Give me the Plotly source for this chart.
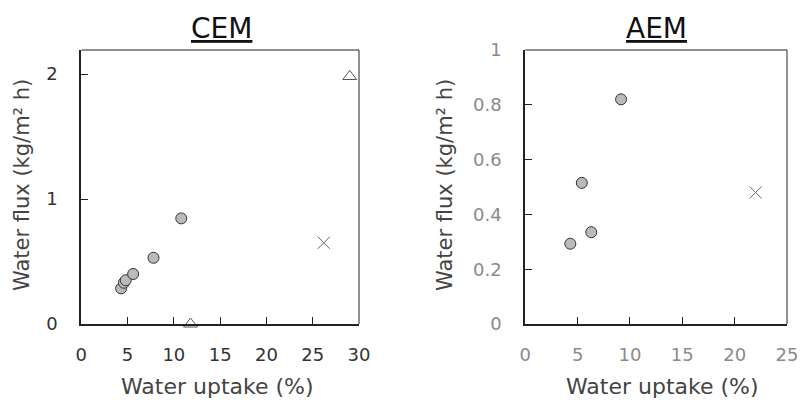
import plotly.graph_objects as go

# CEM data
cem_circle_x = [4.3, 4.6, 4.8, 5.6, 7.8, 10.8]
cem_circle_y = [0.285, 0.33, 0.35, 0.40, 0.53, 0.845]
cem_tri_x = [29.0, 11.8]
cem_tri_y = [1.98, 0.0]
cem_x_x = [26.2]
cem_x_y = [0.65]

# AEM data
aem_circle_x = [9.15, 5.4, 6.3, 4.3]
aem_circle_y = [0.82, 0.515, 0.335, 0.293]
aem_x_x = [22.0]
aem_x_y = [0.48]

cem_xticks = [0, 5, 10, 15, 20, 25, 30]
cem_yticks = [0, 1, 2]
aem_xticks = [0, 5, 10, 15, 20, 25]
aem_yticks = [0, 0.2, 0.4, 0.6, 0.8, 1]

FONT = "DejaVu Sans"
circle_style = dict(symbol="circle", size=11, color="#bababa", line=dict(color="#333333", width=1))
tri_style = dict(symbol="triangle-up-open", size=12, color="#555555", line=dict(width=1))
x_style = dict(symbol="x-thin-open", size=12, color="#666666", line=dict(width=1, color="#666666"))

fig = go.Figure()
fig.add_trace(go.Scatter(x=cem_circle_x, y=cem_circle_y, mode="markers", marker=circle_style, xaxis="x", yaxis="y", cliponaxis=False))
fig.add_trace(go.Scatter(x=cem_tri_x, y=cem_tri_y, mode="markers", marker=tri_style, xaxis="x", yaxis="y", cliponaxis=False))
fig.add_trace(go.Scatter(x=cem_x_x, y=cem_x_y, mode="markers", marker=x_style, xaxis="x", yaxis="y", cliponaxis=False))
fig.add_trace(go.Scatter(x=aem_circle_x, y=aem_circle_y, mode="markers", marker=circle_style, xaxis="x2", yaxis="y2", cliponaxis=False))
fig.add_trace(go.Scatter(x=aem_x_x, y=aem_x_y, mode="markers", marker=x_style, xaxis="x2", yaxis="y2", cliponaxis=False))

W, H = 803, 400
ydom = [1 - 324 / H, 1 - 50 / H]
axis_common = dict(showgrid=False, zeroline=False, showline=True, linecolor="#222222", linewidth=2,
                   ticks="inside", ticklen=7, tickcolor="#222222", tickwidth=1, automargin=False)

fig.update_layout(
    width=W, height=H, showlegend=False,
    margin=dict(l=0, r=0, t=0, b=0, pad=0),
    paper_bgcolor="white", plot_bgcolor="white",
    font=dict(family=FONT, size=18, color="#333333"),
    xaxis=dict(domain=[81.3 / W, 359 / W], range=[0, 30], tickvals=cem_xticks, anchor="y",
               tickfont=dict(color="#333333"), ticklabelstandoff=13, **axis_common),
    yaxis=dict(domain=ydom, range=[0, 2.192], tickvals=cem_yticks, anchor="x",
               tickfont=dict(color="#333333"), ticklabelstandoff=18, **axis_common),
    xaxis2=dict(domain=[525.3 / W, 787 / W], range=[0, 25], tickvals=aem_xticks, anchor="y2",
                tickfont=dict(color="#8a8a8a"), ticklabelstandoff=13, **axis_common),
    yaxis2=dict(domain=ydom, range=[0, 1], tickvals=aem_yticks, anchor="x2",
                tickfont=dict(color="#8a8a8a"), ticklabelstandoff=18, **axis_common),
)

# thin top/right frame lines
for xr, yr in [("x", "y"), ("x2", "y2")]:
    fig.add_shape(type="line", xref=f"{xr} domain", yref=f"{yr} domain", x0=0, x1=1, y0=1, y1=1,
                  line=dict(color="#222222", width=1))
    fig.add_shape(type="line", xref=f"{xr} domain", yref=f"{yr} domain", x0=1, x1=1, y0=0, y1=1,
                  line=dict(color="#222222", width=1))

ann = []
for cx, label in [(221.7, "CEM"), (656.7, "AEM")]:
    ann.append(dict(x=cx / W, y=1 - 28 / H, xref="paper", yref="paper", text=f"<u>{label}</u>",
                    showarrow=False, font=dict(size=28, color="#111111"), xanchor="center", yanchor="middle"))
for cx in [217, 662]:
    ann.append(dict(x=cx / W, y=1 - 386 / H, xref="paper", yref="paper", text="Water uptake (%)",
                    showarrow=False, font=dict(size=22, color="#444444"), xanchor="center", yanchor="middle"))
for cx in [22, 445]:
    ann.append(dict(x=cx / W, y=1 - 185 / H, xref="paper", yref="paper", text="Water flux (kg/m² h)",
                    showarrow=False, textangle=-90, font=dict(size=21, color="#444444"),
                    xanchor="center", yanchor="middle"))
fig.update_layout(annotations=ann)

fig.write_html("out.html", post_script="document.body.style.margin='0px';",
               config={"displayModeBar": False})
